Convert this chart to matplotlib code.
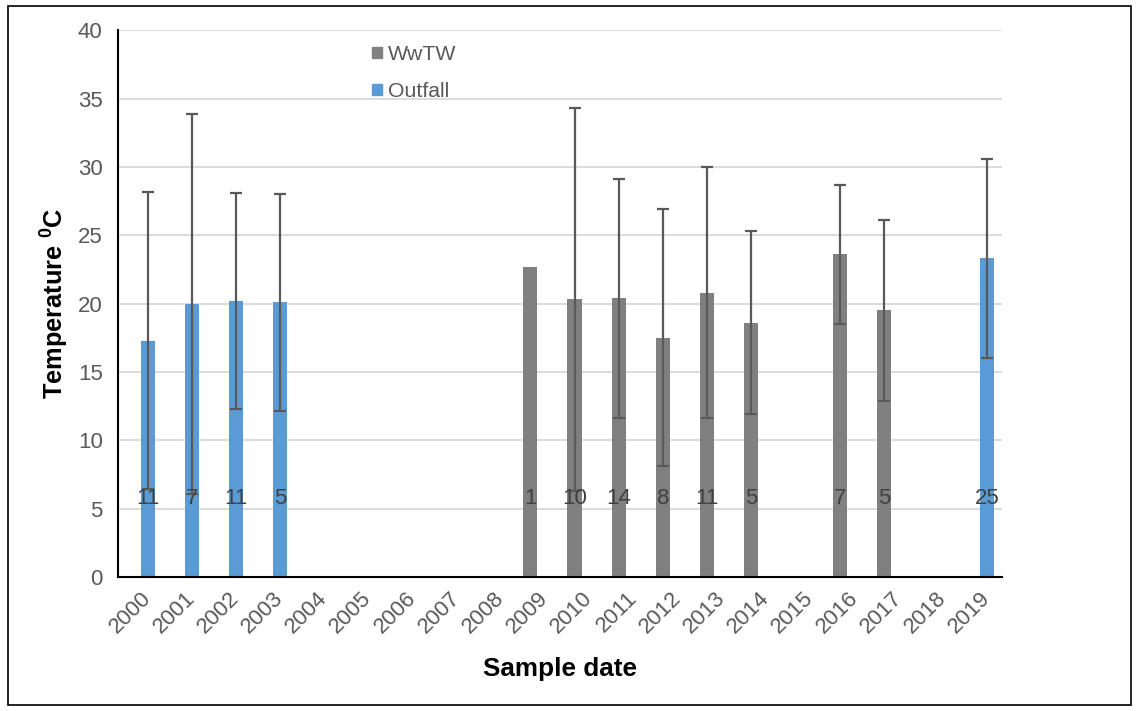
import matplotlib.pyplot as plt
import numpy as np
from matplotlib.patches import Rectangle

plt.rcParams['font.family'] = ['Liberation Sans', 'DejaVu Sans']
plt.rcParams['mathtext.fontset'] = 'custom'
plt.rcParams['mathtext.rm'] = 'Liberation Sans'
plt.rcParams['mathtext.bf'] = 'Liberation Sans:bold'

years = [str(y) for y in range(2000, 2020)]

# WwTW series (None = no bar)
wwtw_mean = [None, None, None, None, None, None, None, None, None, 22.7,
             20.3, 20.4, 17.5, 20.8, 18.6, None, 23.6, 19.5, None, None]
wwtw_err = [None, None, None, None, None, None, None, None, None, 0,
            14.0, 8.75, 9.4, 9.2, 6.7, None, 5.1, 6.6, None, None]
wwtw_n = [None, None, None, None, None, None, None, None, None, 1,
          10, 14, 8, 11, 5, None, 7, 5, None, None]

# Outfall series
out_mean = [17.3, 20.0, 20.2, 20.1, None, None, None, None, None, None,
            None, None, None, None, None, None, None, None, None, 23.3]
out_err = [10.9, 13.9, 7.9, 7.95, None, None, None, None, None, None,
           None, None, None, None, None, None, None, None, None, 7.3]
out_n = [11, 7, 11, 5, None, None, None, None, None, None,
         None, None, None, None, None, None, None, None, None, 25]

label_y = 5.75

fig = plt.figure(figsize=(11.39, 7.11), dpi=100)
ax = fig.add_axes([0.1036, 0.1885, 0.776, 0.769])

x = np.arange(len(years))
w = 0.32
off = 0.17

def draw(means, errs, ns, shift, color):
    idx = [i for i, m in enumerate(means) if m is not None]
    xs = x[idx] + shift
    ms = [means[i] for i in idx]
    es = [errs[i] for i in idx]
    ax.bar(xs, ms, width=w, color=color, zorder=2)
    ex = [xs[k] for k in range(len(idx)) if es[k] > 0]
    em = [ms[k] for k in range(len(idx)) if es[k] > 0]
    ee = [es[k] for k in range(len(idx)) if es[k] > 0]
    ax.errorbar(ex, em, yerr=ee, fmt='none', ecolor='#595959',
                elinewidth=1.6, capsize=4.5, capthick=1.6, zorder=3)
    for k, i in enumerate(idx):
        ax.text(xs[k], label_y, str(ns[i]), ha='center', va='center',
                fontsize=16, color='#404040', zorder=4)

draw(wwtw_mean, wwtw_err, wwtw_n, -off, '#808080')
draw(out_mean, out_err, out_n, off, '#5b9bd5')

ax.set_xlim(-0.5, len(years) - 0.5)
ax.set_ylim(0, 40)
ax.set_yticks(range(0, 41, 5))
ax.set_xticks(x)
ax.set_xticklabels(years, rotation=45, ha='right', rotation_mode='anchor')
ax.tick_params(axis='both', length=0, labelsize=16, labelcolor='#595959')
ax.tick_params(axis='x', pad=8)
ax.tick_params(axis='y', pad=11)
ax.yaxis.grid(True, color='#d9d9d9', linewidth=1.3, zorder=0)
ax.set_axisbelow(True)
for s in ['top', 'right']:
    ax.spines[s].set_visible(False)
ax.spines['left'].set_linewidth(1.5)
ax.spines['bottom'].set_linewidth(1.5)

ax.set_ylabel(r'Temperature $^{\mathbf{0}}$C', fontsize=18.3, fontweight='bold', labelpad=5)
ax.set_xlabel('Sample date', fontsize=18.8, fontweight='bold', labelpad=14)

h1 = Rectangle((0, 0), 1, 1, color='#808080')
h2 = Rectangle((0, 0), 1, 1, color='#5b9bd5')
leg = ax.legend([h1, h2], ['WwTW', 'Outfall'], loc='upper left',
                bbox_to_anchor=(0.266, 1.008), frameon=False, fontsize=15.3,
                handlelength=0.45, handleheight=0.45, handletextpad=0.3,
                labelspacing=0.85, labelcolor='#595959')

fig.patches.append(Rectangle((0.007, 0.008), 0.986, 0.984, transform=fig.transFigure,
                             fill=False, edgecolor='black', linewidth=1.2))

fig.savefig('out.png', dpi=100)
